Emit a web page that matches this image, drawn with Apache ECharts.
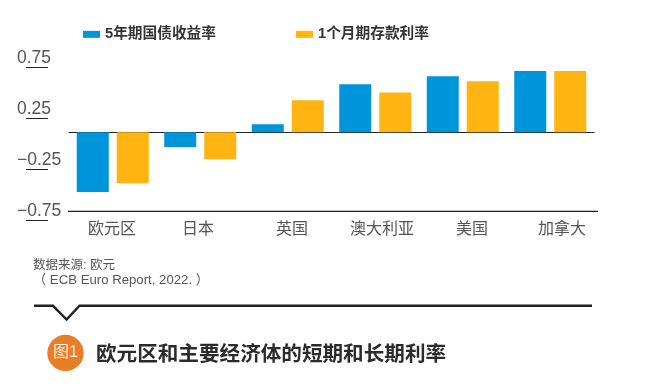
<!DOCTYPE html>
<html><head><meta charset="utf-8">
<style>html,body{margin:0;padding:0;background:#fff}#c{width:645px;height:384px}</style>
<script src="https://cdn.jsdelivr.net/npm/echarts@6/dist/echarts.min.js"></script>
</head><body><div id="c"></div>
<script>
const categories = ['欧元区','日本','英国','澳大利亚','美国','加拿大'];
const bondYield = [-0.585,-0.145,0.08,0.47,0.55,0.60];
const depositRate = [-0.50,-0.265,0.315,0.39,0.50,0.60];
const yTicks = [-0.75,-0.25,0.25,0.75];
const seriesNames = ['5年期国债收益率','1个月期存款利率'];
const titleText = '欧元区和主要经济体的短期和长期利率';
const sourceLine1 = '数据来源: 欧元';
const sourceLine2 = '（ ECB Euro Report, 2022. ）';
const cjk = '"Liberation Sans","Noto Sans CJK SC",sans-serif';
const chart = echarts.init(document.getElementById('c'),null,{renderer:'canvas'});
const fmt = v => (v<0?'−':'')+Math.abs(v).toFixed(2);
chart.setOption({
  animation:false,
  backgroundColor:'#fff',
  textStyle:{fontFamily:cjk},
  legend:{left:83,top:27,padding:0,itemWidth:17,itemHeight:7,itemGap:80,icon:'rect',
    data:seriesNames,textStyle:{fontSize:14.7,fontWeight:'bold',color:'#333',fontFamily:cjk}},
  title:[
    {text:titleText,left:96,top:343,textStyle:{fontSize:20.6,fontWeight:'bold',color:'#2b2b2b',fontFamily:cjk,lineHeight:24},padding:0},
    {text:sourceLine1,left:33,top:258,textStyle:{fontSize:12.5,fontWeight:'normal',color:'#555',fontFamily:cjk,lineHeight:16},padding:0},
    {text:sourceLine2,left:33,top:272,textStyle:{fontSize:13.2,fontWeight:'normal',color:'#555',fontFamily:cjk,lineHeight:16},padding:0}
  ],
  grid:[
    {left:69,width:525,top:55.8,height:153},
    {left:66,width:10,top:58.6,height:153},
    {left:48,width:10,top:67.5,height:153},
    {left:67,width:540,top:100,height:111}
  ],
  xAxis:[
    {gridIndex:0,type:'category',data:categories,axisLabel:{show:false},axisTick:{show:false},
      axisLine:{onZero:true,lineStyle:{color:'#222',width:1.2}}},
    {gridIndex:1,type:'value',show:false},
    {gridIndex:2,type:'value',show:false},
    {gridIndex:3,type:'category',data:categories,axisTick:{show:false},axisLine:{show:false},
      axisLabel:{fontSize:16,color:'#555',margin:11,interval:0,fontFamily:cjk,
        formatter:v=>v==='日本'?'{n|'+v+'}':v,
        rich:{n:{fontSize:16,color:'#555',fontFamily:cjk,padding:[0,8,0,0]}}}}
  ],
  yAxis:[
    {gridIndex:0,type:'value',min:-0.75,max:0.75,show:false},
    {gridIndex:1,type:'value',min:-0.75,max:0.75,splitLine:{show:false},axisLine:{show:false},axisTick:{show:false},
      axisLabel:{customValues:yTicks,formatter:fmt,align:'left',margin:49,fontSize:17.5,color:'#555',fontFamily:cjk}},
    {gridIndex:2,type:'value',min:-0.75,max:0.75,splitLine:{show:false},axisLine:{show:false},axisLabel:{show:false},
      axisTick:{customValues:yTicks,length:22,lineStyle:{color:'#222',width:1}}},
    {gridIndex:3,type:'value',show:false}
  ],
  series:[
    {name:seriesNames[0],type:'bar',xAxisIndex:0,yAxisIndex:0,data:bondYield,barWidth:32,barGap:'25%',itemStyle:{color:'#0095DA'}},
    {name:seriesNames[1],type:'bar',xAxisIndex:0,yAxisIndex:0,data:depositRate,barWidth:32,barGap:'25%',itemStyle:{color:'#FFB511'}}
  ],
  graphic:[
    {type:'line',shape:{x1:68,y1:211.3,x2:598,y2:211.3},style:{stroke:'#222',lineWidth:1.2},silent:true},
    {type:'polyline',shape:{points:[[34,305.8],[53,305.8],[66.6,319.5],[79.5,305.8],[592,305.8]]},style:{stroke:'#222',lineWidth:2.4,fill:null},silent:true},
    {type:'circle',shape:{cx:65.5,cy:353,r:18.2},style:{fill:'#E87F27'},silent:true},
    {type:'text',x:65.5,y:353,style:{text:'图1',fill:'#fff',fontSize:16,fontFamily:cjk,align:'center',verticalAlign:'middle',opacity:.9},silent:true}
  ]
});
</script></body></html>
